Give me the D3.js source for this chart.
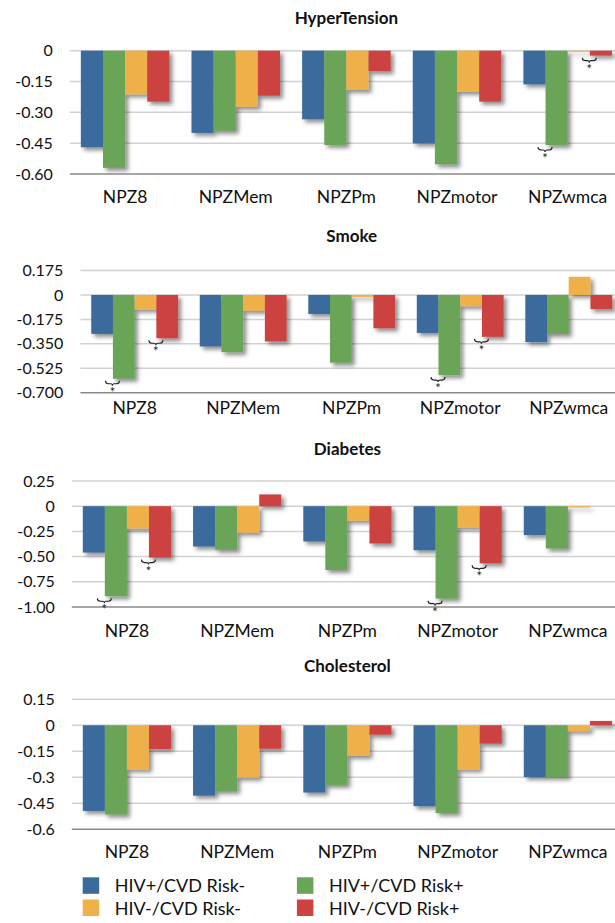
<!DOCTYPE html>
<html><head><meta charset="utf-8">
<script src="https://cdn.jsdelivr.net/npm/d3@7"></script>
<style>
html,body{margin:0;padding:0;background:#fff;}
svg{display:block;font-family:Lato,"Open Sans",sans-serif;}
</style></head>
<body>
<svg id="chart" width="615" height="923"></svg>
<script>
const categories = ["NPZ8","NPZMem","NPZPm","NPZmotor","NPZwmca"];
const seriesNames = ["HIV+/CVD Risk-","HIV+/CVD Risk+","HIV-/CVD Risk-","HIV-/CVD Risk+"];
const seriesColors = ["#3b6a9d","#6aa457","#f0b04a","#cc4340"];
const legendOrder = ["HIV+/CVD Risk-","HIV+/CVD Risk+","HIV-/CVD Risk-","HIV-/CVD Risk+"];

const panelTitles = ["HyperTension","Smoke","Diabetes","Cholesterol"];

const hypertension = [
  [-0.47, -0.40, -0.334, -0.451, -0.164],
  [-0.57, -0.39, -0.459, -0.553, -0.459],
  [-0.212, -0.273, -0.191, -0.20, -0.005],
  [-0.248, -0.219, -0.10, -0.248, -0.024]
];
const smoke = [
  [-0.279, -0.369, -0.137, -0.272, -0.338],
  [-0.60, -0.409, -0.485, -0.574, -0.279],
  [-0.104, -0.113, -0.014, -0.080, 0.130],
  [-0.31, -0.333, -0.239, -0.30, -0.102]
];
const diabetes = [
  [-0.46, -0.40, -0.35, -0.437, -0.287],
  [-0.893, -0.433, -0.633, -0.917, -0.42],
  [-0.22, -0.263, -0.143, -0.21, -0.013],
  [-0.51, 0.117, -0.37, -0.567, 0]
];
const cholesterol = [
  [-0.494, -0.406, -0.388, -0.467, -0.298],
  [-0.515, -0.379, -0.344, -0.506, -0.298],
  [-0.254, -0.302, -0.177, -0.254, -0.033],
  [-0.137, -0.135, -0.054, -0.106, 0.025]
];

const htTicks = [0, -0.15, -0.30, -0.45, -0.60];
const htTickLabels = ["0","-0.15","-0.30","-0.45","-0.60"];
const smTicks = [0.175, 0, -0.175, -0.35, -0.525, -0.70];
const smTickLabels = ["0.175","0","-0.175","-0.350","-0.525","-0.700"];
const dbTicks = [0.25, 0, -0.25, -0.50, -0.75, -1.00];
const dbTickLabels = ["0.25","0","-0.25","-0.50","-0.75","-1.00"];
const chTicks = [0.15, 0, -0.15, -0.30, -0.45, -0.60];
const chTickLabels = ["0.15","0","-0.15","-0.3","-0.45","-0.6"];

// significance marks: [category, pair] where pair 0 = blue|green, 1 = orange|red
const htSig = [["NPZwmca",0],["NPZwmca",1]];
const smSig = [["NPZ8",0],["NPZ8",1],["NPZmotor",0],["NPZmotor",1]];
const dbSig = [["NPZ8",0],["NPZ8",1],["NPZmotor",0],["NPZmotor",1]];
const chSig = [];

const panels = [
  {title: panelTitles[0], data: hypertension, ticks: htTicks, labels: htTickLabels, sig: htSig,
   left: 69.8, yTop: 50.7, yBot: 174, titleY: 23.5, labelY: 203},
  {title: panelTitles[1], data: smoke, ticks: smTicks, labels: smTickLabels, sig: smSig,
   left: 80.4, yTop: 270.5, yBot: 392.7, titleY: 241.7, labelY: 414},
  {title: panelTitles[2], data: diabetes, ticks: dbTicks, labels: dbTickLabels, sig: dbSig,
   left: 71.8, yTop: 481, yBot: 607, titleY: 455, labelY: 636.5},
  {title: panelTitles[3], data: cholesterol, ticks: chTicks, labels: chTickLabels, sig: chSig,
   left: 71.8, yTop: 699.3, yBot: 829.3, titleY: 671.7, labelY: 857.5}
];

const svg = d3.select("#chart");
const defs = svg.append("defs");
const f = defs.append("filter").attr("id","shadow").attr("x","-20%").attr("y","-20%").attr("width","160%").attr("height","160%");
f.append("feDropShadow").attr("dx",3).attr("dy",3).attr("stdDeviation",2.2)
  .attr("flood-color","#000").attr("flood-opacity",0.45);

const RIGHT = 623;

panels.forEach(p => {
  const g = svg.append("g");
  const x = d3.scaleBand().domain(categories).range([p.left, RIGHT]).paddingInner(0.2).paddingOuter(0.1);
  const xs = d3.scaleBand().domain(d3.range(seriesNames.length)).range([0, x.bandwidth()]);
  const y = d3.scaleLinear().domain([d3.min(p.ticks), d3.max(p.ticks)]).range([p.yBot, p.yTop]);

  // title
  g.append("text").attr("x", (p.left + RIGHT)/2).attr("y", p.titleY)
    .attr("text-anchor","middle").attr("font-weight","bold").attr("font-size",17)
    .attr("fill","#111").text(p.title);

  // gridlines
  const minT = d3.min(p.ticks);
  g.selectAll("line.grid").data(p.ticks.filter(t => t !== minT)).join("line")
    .attr("x1", p.left).attr("x2", 615).attr("y1", d => y(d)).attr("y2", d => y(d))
    .attr("stroke","#d2d2d2").attr("stroke-width",1.5);

  // y tick labels via axis
  const yAxis = d3.axisLeft(y).tickValues(p.ticks).tickSize(0).tickPadding(0)
    .tickFormat((d,i) => p.labels[i]);
  const ya = g.append("g").attr("transform", `translate(${p.left - 17},0)`).call(yAxis);
  ya.select(".domain").remove();
  ya.selectAll("text").attr("font-size",16).attr("font-family","Lato, sans-serif").attr("fill","#111");

  // bars
  const barsG = g.append("g").attr("filter","url(#shadow)");
  p.data.forEach((vals, si) => {
    barsG.selectAll(null).data(vals.map((v,ci) => ({v, c: categories[ci]}))).join("rect")
      .attr("x", d => x(d.c) + xs(si))
      .attr("width", xs.bandwidth())
      .attr("y", d => y(Math.max(0, d.v)))
      .attr("height", d => Math.abs(y(d.v) - y(0)))
      .attr("fill", seriesColors[si]);
  });

  // bottom axis line
  g.append("line").attr("x1", p.left).attr("x2", 615).attr("y1", y(minT)).attr("y2", y(minT))
    .attr("stroke","#8a8a8a").attr("stroke-width",1.5);

  // category labels via axis
  const xAxis = d3.axisBottom(x).tickSize(0).tickPadding(0);
  const xa = g.append("g").attr("transform", `translate(0,${p.labelY})`).call(xAxis);
  xa.select(".domain").remove();
  xa.selectAll("text").attr("dy", 0).attr("y", 0).attr("font-size",17.5)
    .attr("font-family","Lato, sans-serif").attr("fill","#111");

  // significance braces
  p.sig.forEach(([cat, pair]) => {
    const i0 = pair*2, i1 = pair*2+1;
    const cx = x(cat) + xs(i1) - 0.5;
    const ci = categories.indexOf(cat);
    const lowV = Math.min(p.data[i0][ci], p.data[i1][ci], 0);
    const by = y(lowV) + 5;
    const w = 7, h = 3;
    const path = `M${cx-w},${by-h} Q${cx-w},${by} ${cx-w+3},${by} L${cx-1.5},${by} Q${cx},${by} ${cx},${by+2} Q${cx},${by} ${cx+1.5},${by} L${cx+w-3},${by} Q${cx+w},${by} ${cx+w},${by-h}`;
    g.append("path").attr("d", path).attr("fill","none").attr("stroke","#222").attr("stroke-width",1.1);
    g.append("text").attr("x", cx).attr("y", by + 13).attr("text-anchor","middle")
      .attr("font-size",13).attr("fill","#222").text("*");
  });
});

// legend
const legend = svg.append("g");
const legendPos = [[82.7,877.3],[296.9,877.3],[82.7,899.5],[296.9,899.5]];
legendOrder.forEach((name, i) => {
  const si = seriesNames.indexOf(name);
  const [lx, ly] = legendPos[i];
  legend.append("rect").attr("x", lx).attr("y", ly).attr("width",16.5).attr("height",16.5)
    .attr("fill", seriesColors[si]);
  legend.append("text").attr("x", lx + 32).attr("y", ly + 15).attr("font-size",18)
    .attr("fill","#111").text(name);
});
</script>
</body></html>
